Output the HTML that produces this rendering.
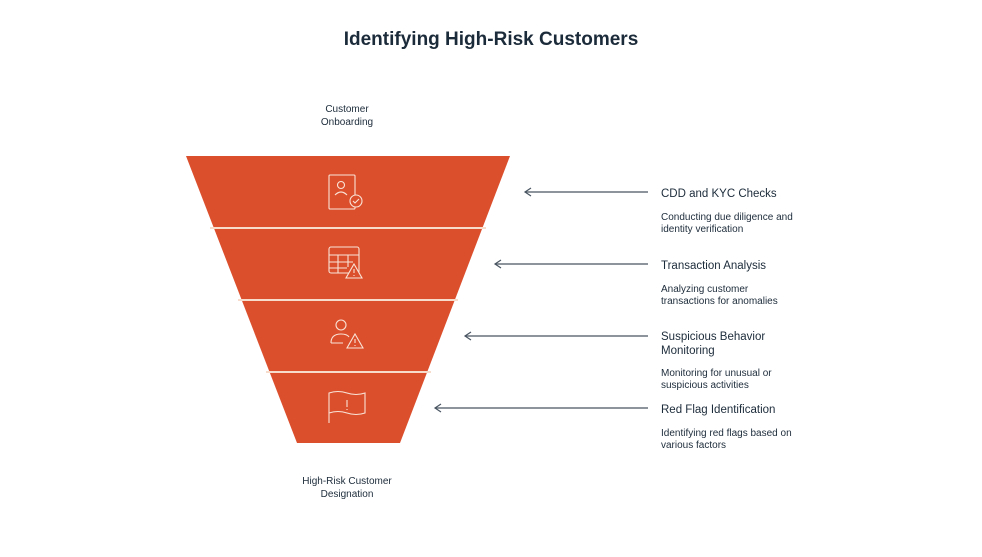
<!DOCTYPE html>
<html><head><meta charset="utf-8"><style>
body{margin:0;background:#fff;}
svg text{font-family:"Liberation Sans",sans-serif;fill:#1c2b3a;}
</style></head><body>
<svg width="982" height="552" viewBox="0 0 982 552">
<text x="491" y="45" text-anchor="middle" font-size="19" font-weight="bold">Identifying High-Risk Customers</text>
<text x="347" y="112" text-anchor="middle" font-size="10">Customer</text>
<text x="347" y="125" text-anchor="middle" font-size="10">Onboarding</text>
<text x="347" y="484" text-anchor="middle" font-size="10">High-Risk Customer</text>
<text x="347" y="497" text-anchor="middle" font-size="10">Designation</text>
<polygon points="186,156 510,156 400,443 297,443" fill="#dc4f2d"/>
<g stroke="#f7dccb" stroke-width="2">
<line x1="210" y1="228" x2="486" y2="228"/>
<line x1="238" y1="300" x2="458" y2="300"/>
<line x1="266" y1="372" x2="431" y2="372"/>
</g>
<g fill="none" stroke="#f9e3d6" stroke-width="1.1">
<rect x="329" y="175" width="26" height="34" rx="1"/>
<circle cx="341" cy="185" r="3.5"/><path d="M335 195 q6 -6 12 0"/>
<circle cx="356" cy="201" r="6" fill="#dc4f2d"/><path d="M353 201 l2 2 l4 -4"/>
<rect x="329" y="247" width="30" height="26" rx="2"/>
<path d="M329 255 h30 M329 262 h24 M329 268 h18 M338 255 v18 M348 255 v12"/>
<path d="M354 264 l8 14 h-16 z" fill="#dc4f2d"/><path d="M354 269 v4 M354 275 v1"/>
<circle cx="341" cy="325" r="5"/><path d="M331 343 q0 -9 10 -9 q6 0 8 3 M331 343 h12"/>
<path d="M355 334 l8 14 h-16 z" fill="#dc4f2d"/><path d="M355 339 v4 M355 345 v1"/>
<path d="M329 423 v-30 q9 -3 18 0 q9 3 18 0 v20 q-9 3 -18 0 q-9 -3 -18 0"/>
<path d="M347 400 v7 M347 409 v1"/>
</g>
<g stroke="#4a5562" stroke-width="1.2" fill="none">
<line x1="648" y1="192" x2="525" y2="192"/><path d="M531 188 l-6 4 l6 4"/>
<line x1="648" y1="264" x2="495" y2="264"/><path d="M501 260 l-6 4 l6 4"/>
<line x1="648" y1="336" x2="465" y2="336"/><path d="M471 332 l-6 4 l6 4"/>
<line x1="648" y1="408" x2="435" y2="408"/><path d="M441 404 l-6 4 l6 4"/>
</g>
<g font-size="11.5">
<text x="661" y="197">CDD and KYC Checks</text>
<text x="661" y="269">Transaction Analysis</text>
<text x="661" y="340">Suspicious Behavior</text>
<text x="661" y="354">Monitoring</text>
<text x="661" y="413">Red Flag Identification</text>
</g>
<g font-size="10">
<text x="661" y="220">Conducting due diligence and</text>
<text x="661" y="232">identity verification</text>
<text x="661" y="292">Analyzing customer</text>
<text x="661" y="304">transactions for anomalies</text>
<text x="661" y="376">Monitoring for unusual or</text>
<text x="661" y="388">suspicious activities</text>
<text x="661" y="436">Identifying red flags based on</text>
<text x="661" y="448">various factors</text>
</g>
</svg>
</body></html>
